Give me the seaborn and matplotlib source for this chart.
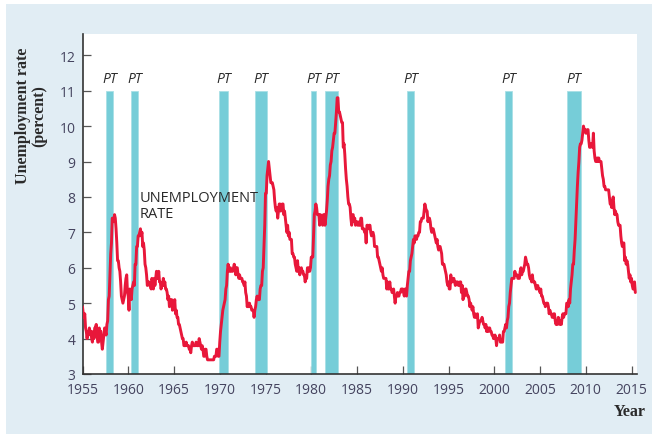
"""
US unemployment rate with recession (peak-to-trough) shading, 1955-2015.
"""
import numpy as np
import pandas as pd
import matplotlib
matplotlib.use('Agg')
import matplotlib.pyplot as plt
from matplotlib.patches import Rectangle
import seaborn as sns

# ── Data (monthly unemployment rate, percent) ────────────────────────────────
start_year = 1955

rate_1950s = [
    4.9, 4.7, 4.6, 4.7, 4.3, 4.2, 4.0, 4.2, 4.1, 4.3, 4.2, 4.2,   # 1955
    4.0, 3.9, 4.2, 4.0, 4.3, 4.3, 4.4, 4.1, 3.9, 3.9, 4.3, 4.2,   # 1956
    4.2, 3.9, 3.7, 3.9, 4.1, 4.3, 4.2, 4.1, 4.4, 4.5, 5.1, 5.2,   # 1957
    5.8, 6.4, 6.7, 7.4, 7.4, 7.3, 7.5, 7.4, 7.1, 6.7, 6.2, 6.2,   # 1958
    6.0, 5.9, 5.6, 5.2, 5.1, 5.0, 5.1, 5.2, 5.5, 5.7, 5.8, 5.3,   # 1959
]
rate_1960s = [
    5.2, 4.8, 5.4, 5.2, 5.1, 5.4, 5.5, 5.6, 5.5, 6.1, 6.1, 6.6,
    6.6, 6.9, 6.9, 7.0, 7.1, 6.9, 7.0, 6.6, 6.7, 6.5, 6.1, 6.0,
    5.8, 5.5, 5.6, 5.6, 5.5, 5.5, 5.4, 5.7, 5.6, 5.4, 5.7, 5.5,
    5.7, 5.9, 5.7, 5.7, 5.9, 5.6, 5.6, 5.4, 5.5, 5.5, 5.7, 5.5,
    5.6, 5.4, 5.4, 5.3, 5.1, 5.2, 4.9, 5.0, 5.1, 5.1, 4.8, 5.0,
    4.9, 5.1, 4.7, 4.8, 4.6, 4.6, 4.4, 4.4, 4.3, 4.2, 4.1, 4.0,
    4.0, 3.8, 3.8, 3.8, 3.9, 3.8, 3.8, 3.8, 3.7, 3.7, 3.6, 3.8,
    3.9, 3.8, 3.8, 3.8, 3.8, 3.9, 3.8, 3.8, 3.8, 4.0, 3.9, 3.8,
    3.7, 3.8, 3.7, 3.5, 3.5, 3.7, 3.7, 3.5, 3.4, 3.4, 3.4, 3.4,
    3.4, 3.4, 3.4, 3.4, 3.4, 3.5, 3.5, 3.5, 3.7, 3.7, 3.5, 3.5,
]
rate_1970s = [
    3.9, 4.2, 4.4, 4.6, 4.8, 4.9, 5.0, 5.1, 5.4, 5.5, 5.9, 6.1,
    5.9, 5.9, 6.0, 5.9, 5.9, 5.9, 6.0, 6.1, 6.0, 5.8, 6.0, 6.0,
    5.8, 5.7, 5.8, 5.7, 5.7, 5.7, 5.6, 5.6, 5.5, 5.6, 5.3, 5.2,
    4.9, 5.0, 4.9, 5.0, 4.9, 4.9, 4.8, 4.8, 4.8, 4.6, 4.8, 4.9,
    5.1, 5.2, 5.1, 5.1, 5.1, 5.4, 5.5, 5.5, 5.9, 6.0, 6.6, 7.2,
    8.1, 8.1, 8.6, 8.8, 9.0, 8.8, 8.6, 8.4, 8.4, 8.4, 8.3, 8.2,
    7.9, 7.7, 7.6, 7.7, 7.4, 7.6, 7.8, 7.8, 7.6, 7.7, 7.8, 7.8,
    7.5, 7.6, 7.4, 7.2, 7.0, 7.2, 6.9, 7.0, 6.8, 6.8, 6.8, 6.4,
    6.4, 6.3, 6.3, 6.1, 6.0, 5.9, 6.2, 5.9, 6.0, 5.8, 5.9, 6.0,
    5.9, 5.9, 5.8, 5.8, 5.6, 5.7, 5.7, 6.0, 5.9, 6.0, 5.9, 6.0,
]
rate_1980s = [
    6.3, 6.3, 6.3, 6.9, 7.5, 7.6, 7.8, 7.7, 7.5, 7.5, 7.5, 7.2,
    7.5, 7.4, 7.4, 7.2, 7.5, 7.5, 7.2, 7.4, 7.6, 7.9, 8.3, 8.5,
    8.6, 8.9, 9.0, 9.3, 9.4, 9.6, 9.8, 9.8, 10.1, 10.4, 10.8, 10.8,
    10.4, 10.4, 10.3, 10.2, 10.1, 10.1, 9.4, 9.5, 9.2, 8.8, 8.5, 8.3,
    8.0, 7.8, 7.8, 7.7, 7.4, 7.2, 7.5, 7.5, 7.3, 7.4, 7.2, 7.3,
    7.3, 7.2, 7.2, 7.3, 7.2, 7.4, 7.4, 7.1, 7.1, 7.1, 7.0, 7.0,
    6.7, 7.2, 7.2, 7.1, 7.2, 7.2, 7.0, 6.9, 7.0, 7.0, 6.9, 6.6,
    6.6, 6.6, 6.6, 6.3, 6.3, 6.2, 6.1, 6.0, 5.9, 6.0, 5.8, 5.7,
    5.7, 5.7, 5.7, 5.4, 5.6, 5.4, 5.4, 5.6, 5.4, 5.4, 5.3, 5.3,
    5.4, 5.2, 5.0, 5.2, 5.2, 5.3, 5.2, 5.2, 5.3, 5.3, 5.4, 5.4,
]
rate_1990s = [
    5.4, 5.3, 5.2, 5.4, 5.4, 5.2, 5.5, 5.7, 5.9, 5.9, 6.2, 6.3,
    6.4, 6.6, 6.8, 6.7, 6.9, 6.9, 6.8, 6.9, 6.9, 7.0, 7.0, 7.3,
    7.3, 7.4, 7.4, 7.4, 7.6, 7.8, 7.7, 7.6, 7.6, 7.3, 7.4, 7.4,
    7.3, 7.1, 7.0, 7.1, 7.1, 7.0, 6.9, 6.8, 6.7, 6.8, 6.6, 6.5,
    6.6, 6.6, 6.5, 6.4, 6.1, 6.1, 6.1, 6.0, 5.9, 5.8, 5.6, 5.5,
    5.6, 5.4, 5.4, 5.8, 5.6, 5.6, 5.7, 5.7, 5.6, 5.5, 5.6, 5.6,
    5.6, 5.5, 5.5, 5.6, 5.6, 5.3, 5.5, 5.1, 5.2, 5.2, 5.4, 5.4,
    5.3, 5.2, 5.2, 5.1, 4.9, 5.0, 4.9, 4.8, 4.9, 4.7, 4.6, 4.7,
    4.6, 4.6, 4.7, 4.3, 4.4, 4.5, 4.5, 4.5, 4.6, 4.5, 4.4, 4.4,
    4.3, 4.4, 4.2, 4.3, 4.2, 4.3, 4.3, 4.2, 4.2, 4.1, 4.1, 4.0,
]
rate_2000s = [
    4.0, 4.1, 4.0, 3.8, 4.0, 4.0, 4.0, 4.1, 3.9, 3.9, 3.9, 3.9,
    4.2, 4.2, 4.3, 4.4, 4.3, 4.5, 4.6, 4.9, 5.0, 5.3, 5.5, 5.7,
    5.7, 5.7, 5.7, 5.9, 5.8, 5.8, 5.8, 5.7, 5.7, 5.7, 5.9, 6.0,
    5.8, 5.9, 5.9, 6.0, 6.1, 6.3, 6.2, 6.1, 6.1, 6.0, 5.8, 5.7,
    5.7, 5.6, 5.8, 5.6, 5.6, 5.6, 5.5, 5.4, 5.4, 5.5, 5.4, 5.4,
    5.3, 5.4, 5.2, 5.2, 5.1, 5.0, 5.0, 4.9, 5.0, 5.0, 5.0, 4.9,
    4.7, 4.8, 4.7, 4.7, 4.6, 4.6, 4.7, 4.7, 4.5, 4.4, 4.5, 4.4,
    4.6, 4.5, 4.4, 4.5, 4.4, 4.6, 4.7, 4.6, 4.7, 4.7, 4.7, 5.0,
    5.0, 4.9, 5.1, 5.0, 5.4, 5.6, 5.8, 6.1, 6.1, 6.5, 6.8, 7.3,
    7.8, 8.3, 8.7, 9.0, 9.4, 9.5, 9.5, 9.6, 9.8, 10.0, 9.9, 9.9,
]
rate_2010s = [
    9.8, 9.8, 9.9, 9.9, 9.6, 9.4, 9.4, 9.5, 9.5, 9.4, 9.8, 9.3,
    9.1, 9.0, 9.0, 9.1, 9.0, 9.1, 9.0, 9.0, 9.0, 8.8, 8.6, 8.5,
    8.3, 8.3, 8.2, 8.2, 8.2, 8.2, 8.2, 8.0, 7.8, 7.8, 7.7, 7.9,
    8.0, 7.7, 7.5, 7.6, 7.5, 7.5, 7.3, 7.2, 7.2, 7.2, 6.9, 6.7,
    6.6, 6.7, 6.7, 6.2, 6.3, 6.1, 6.2, 6.1, 5.9, 5.7, 5.8, 5.6,
    5.7, 5.5, 5.4, 5.4, 5.6, 5.3,
]

# recessions, peak to trough (decimal years)
rec_start = [1957.6, 1960.3, 1969.9, 1973.85, 1980.0, 1981.5, 1990.5, 2001.2, 2007.9]
rec_end   = [1958.3, 1961.1, 1970.9, 1975.2, 1980.5, 1982.9, 1991.2, 2001.9, 2009.5]
rec_top = 11.0
rec_label = 'PT'

y_ticks = [3, 4, 5, 6, 7, 8, 9, 10, 11, 12]
x_ticks = list(range(1955, 2016, 5))

rate = rate_1950s + rate_1960s + rate_1970s + rate_1980s + rate_1990s + rate_2000s + rate_2010s
df = pd.DataFrame({'year': start_year + np.arange(len(rate)) / 12.0, 'rate': rate})

# ── Style ────────────────────────────────────────────────────────────────────
sns.set_style('ticks')
plt.rcParams['font.family'] = ['Open Sans', 'DejaVu Sans']

panel_col = '#e1edf4'
bar_col = '#76cdd8'
line_col = '#e8173a'
tick_col = '#45445f'
dark = '#2a2a2a'

fig = plt.figure(figsize=(6.52, 4.35), dpi=100, facecolor='white')
fig.add_artist(Rectangle((6 / 652, 0), 1 - 6 / 652, 1 - 5 / 435,
                         transform=fig.transFigure, facecolor=panel_col,
                         edgecolor='none', zorder=-10))
ax = fig.add_axes([82.5 / 652, 60 / 435, (637 - 82.5) / 652, (375 - 35) / 435])
ax.set_facecolor('white')

# recession bars
ax.bar(rec_start, rec_top - y_ticks[0], width=np.array(rec_end) - np.array(rec_start),
       bottom=y_ticks[0], align='edge', color=bar_col, edgecolor='#a9e0e6',
       linewidth=0.6, zorder=1)
for s, e in zip(rec_start, rec_end):
    ax.text((s + e) / 2, rec_top + 0.13, rec_label, ha='center', va='bottom',
            fontsize=10, style='italic', color=dark)

sns.lineplot(data=df, x='year', y='rate', color=line_col, linewidth=2.1, ax=ax, zorder=3)

ax.text(1961.2, 8.2, 'UNEMPLOYMENT\nRATE', ha='left', va='top', fontsize=10.5,
        color=dark, linespacing=1.15)

ax.set_xlim(1955, 2015.6)
ax.set_ylim(3, 12.6)
ax.set_xticks(x_ticks)
ax.set_yticks(y_ticks)
ax.tick_params(direction='in', length=6, width=0.9, color='#555555',
               labelcolor=tick_col, labelsize=10)
ax.tick_params(axis='x', pad=6)
ax.tick_params(axis='y', pad=5)
sns.despine(ax=ax)
for sp in ('left', 'bottom'):
    ax.spines[sp].set_color('#333333')
    ax.spines[sp].set_linewidth(1.2)

ax.set_xlabel('')
ax.set_ylabel('')
fig.text(31 / 652, 1 - 116 / 435, 'Unemployment rate\n(percent)', rotation=90,
         ha='center', va='center', fontsize=11.5, fontweight='bold',
         family='Liberation Serif', color=dark, linespacing=1.05)
fig.text(646 / 652, 1 - 412 / 435, 'Year', ha='right', va='center', fontsize=11.5,
         fontweight='bold', family='Liberation Serif', color=dark)

plt.savefig('out.png', dpi=100, facecolor=fig.get_facecolor())
